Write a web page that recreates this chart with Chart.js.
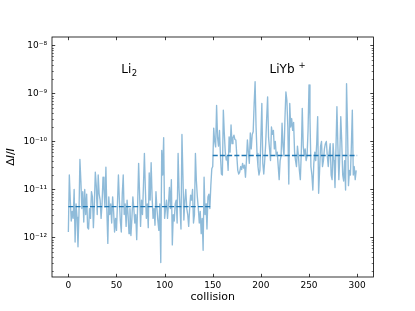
<!DOCTYPE html>
<html>
<head>
<meta charset="utf-8">
<script src="https://cdn.jsdelivr.net/npm/chart.js@4.4.0/dist/chart.umd.min.js"></script>
<style>
  html, body { margin: 0; padding: 0; background: #fff; }
  canvas { display: block; }
</style>
</head>
<body>
<canvas id="chart" width="415" height="311"></canvas>
<script>
// ── DATA ────────────────────────────────────────────────────────────────────
const collisionTicks = [0, 50, 100, 150, 200, 250, 300];
const yTickValues    = [1e-12, 1e-11, 1e-10, 1e-9, 1e-8];
const yTickLabels    = ['10⁻¹²', '10⁻¹¹', '10⁻¹⁰', '10⁻⁹', '10⁻⁸'];

// ΔI/I per collision, index = collision number
const signal = [
  // 0-49 (Li2)
  1.3e-12, 2e-11, 6e-12, 2.2e-12, 3.5e-12, 2.5e-12, 1e-11, 8e-13, 5e-12, 2.6e-12,
  6.4e-13, 3e-12, 4.2e-11, 1.5e-11, 4e-12, 9e-12, 2.1e-12, 1e-11, 3e-12, 8e-12,
  1.6e-12, 1.5e-12, 4e-12, 2.5e-12, 9e-12, 7e-12, 1.6e-12, 5e-12, 2.3e-11, 1.2e-11,
  3e-12, 2e-11, 8e-12, 6e-12, 2.5e-12, 5e-12, 1.8e-11, 1e-11, 4.3e-12, 2.9e-11,
  3.5e-12, 7.5e-13, 7e-12, 3e-12, 5e-12, 2e-12, 7e-12, 3.5e-12, 1.3e-12, 2.5e-12,
  // 50-99
  1.4e-12, 5e-12, 2e-11, 6e-12, 2.2e-12, 1.3e-12, 8e-12, 2e-11, 3e-12, 5e-12,
  1.7e-12, 6e-12, 3e-12, 1.2e-12, 4e-12, 1.1e-12, 2.5e-12, 7e-12, 4e-12, 2e-12,
  3e-12, 9e-13, 5e-12, 3.5e-11, 8e-12, 1.7e-12, 6e-12, 3e-12, 1.2e-11, 5.6e-11,
  1e-11, 2.5e-12, 5e-12, 1.6e-12, 2.2e-11, 6e-12, 3.6e-11, 7e-12, 2.5e-12, 4e-12,
  1.8e-12, 9e-12, 4e-12, 2.2e-12, 1.4e-12, 5e-12, 3e-13, 6.5e-11, 2e-11, 1.2e-10,
  // 100-149
  2.5e-12, 4e-12, 6e-12, 2.5e-12, 5e-12, 1.1e-11, 4e-12, 1.6e-11, 7e-13, 3e-12,
  2.2e-12, 5e-12, 6e-12, 2e-12, 5.6e-11, 1e-11, 4e-12, 1.5e-12, 1.4e-10, 2e-11,
  2.3e-12, 6e-12, 1e-11, 4e-12, 3e-12, 1.7e-12, 4e-12, 7.6e-12, 6e-12, 1e-11,
  2e-12, 3e-12, 5.6e-11, 1.5e-11, 7e-12, 4e-12, 2e-12, 3.5e-12, 1.2e-12, 2.5e-12,
  5.4e-13, 1.8e-11, 3e-12, 5e-12, 1.5e-12, 7e-12, 8e-12, 4e-12, 1.2e-11, 2.7e-11,
  // 150-199 (LiYb+)
  3e-11, 1.9e-10, 1e-10, 7.7e-11, 5.6e-10, 1.2e-10, 8e-11, 1.7e-10, 5e-11, 2.1e-11,
  2e-11, 4.5e-10, 1.5e-10, 6e-11, 4.1e-11, 5e-11, 2.5e-11, 1.25e-10, 6e-11, 2.2e-10,
  9e-11, 1.2e-10, 1.35e-10, 1.1e-10, 1.07e-10, 5e-11, 2.5e-11, 2.1e-11, 2.3e-11, 3e-11,
  2.6e-11, 3.5e-11, 2.8e-11, 3.2e-11, 1.8e-11, 4e-11, 1.07e-10, 6e-11, 3.5e-11, 1.5e-10,
  7e-11, 1.4e-10, 1.6e-10, 6e-10, 1.75e-9, 2e-10, 5.6e-11, 3e-11, 2e-11, 2.5e-11,
  // 200-249
  1.2e-10, 6.2e-10, 3.5e-11, 2.1e-11, 4e-11, 9e-11, 3e-10, 8.5e-10, 1.2e-10, 7e-11,
  4e-11, 2e-10, 1.4e-10, 1.7e-10, 7e-11, 1e-10, 5e-11, 6e-11, 3.1e-11, 1.6e-11,
  4e-11, 5e-11, 2.4e-10, 8e-11, 5e-11, 3e-10, 1.08e-9, 7.2e-10, 2e-10, 1.3e-11,
  6.2e-10, 2e-10, 3e-10, 1.7e-10, 2.5e-10, 6e-11, 4e-11, 3e-11, 8e-11, 5e-11,
  2.5e-11, 1.6e-11, 6e-11, 4.9e-10, 8e-11, 5e-11, 7e-11, 4e-11, 5e-11, 1.7e-10,
  // 250-299
  1.5e-9, 3e-10, 3e-11, 2e-11, 9.7e-12, 3.5e-11, 6e-11, 4e-11, 9e-11, 3.3e-10,
  8.3e-12, 2.5e-11, 8e-11, 1e-10, 3e-11, 4e-11, 7e-11, 9e-11, 1e-10, 5e-11,
  3e-11, 6e-11, 9e-11, 2e-11, 1.6e-11, 9e-11, 4e-11, 1.1e-11, 7e-11, 5.3e-10,
  8e-11, 1.6e-11, 5e-11, 3.3e-10, 1e-10, 2e-11, 1.5e-11, 4e-11, 9.7e-12, 1.6e-9,
  2e-10, 1.2e-11, 2.5e-11, 2e-11, 8e-11, 4.5e-10, 2e-11, 3e-11, 1.6e-11, 2.5e-11,
];

// dashed mean levels and their collision spans
const meanLi2     = 4.4e-12;
const meanLiYb    = 5.1e-11;
const spanLi2     = [0, 149];
const spanLiYb    = [150, 300];

// ── STYLE ───────────────────────────────────────────────────────────────────
const BLUE      = '#1f77b4';
const BLUE_SOFT = 'rgba(31,119,180,0.5)';
const FONT      = '"DejaVu Sans", sans-serif';

// ── FRAME / INWARD TICKS / TEXT (matplotlib look) ──────────────────────────
const framePlugin = {
  id: 'frame',
  afterDraw(chart) {
    const { ctx, chartArea: a, scales: { x, y } } = chart;
    ctx.save();
    ctx.strokeStyle = '#000';

    // major ticks, inward, all four sides
    ctx.lineWidth = 0.75;
    ctx.beginPath();
    collisionTicks.forEach(v => {
      const px = Math.round(x.getPixelForValue(v)) + 0.5;
      ctx.moveTo(px, a.bottom); ctx.lineTo(px, a.bottom - 3.2);
      ctx.moveTo(px, a.top);    ctx.lineTo(px, a.top + 3.2);
    });
    yTickValues.forEach(v => {
      const py = Math.round(y.getPixelForValue(v)) + 0.5;
      ctx.moveTo(a.left, py);  ctx.lineTo(a.left + 3.2, py);
      ctx.moveTo(a.right, py); ctx.lineTo(a.right - 3.2, py);
    });
    ctx.stroke();

    // minor log ticks
    ctx.lineWidth = 0.55;
    ctx.beginPath();
    for (let e = -14; e <= -8; e++) {
      for (let k = 2; k <= 9; k++) {
        const v = k * Math.pow(10, e);
        if (v < y.min || v > y.max) continue;
        const py = Math.round(y.getPixelForValue(v)) + 0.5;
        ctx.moveTo(a.left, py);  ctx.lineTo(a.left + 1.8, py);
        ctx.moveTo(a.right, py); ctx.lineTo(a.right - 1.8, py);
      }
    }
    ctx.stroke();

    // spines
    ctx.lineWidth = 0.8;
    ctx.strokeRect(a.left, a.top, a.right - a.left, a.bottom - a.top);

    // y label: ΔI/I (I italic)
    ctx.fillStyle = '#000';
    ctx.textBaseline = 'middle';
    const parts = [['Δ', 'normal'], ['I', 'italic'], ['/', 'normal'], ['I', 'italic']];
    ctx.translate(11, (a.top + a.bottom) / 2);
    ctx.rotate(-Math.PI / 2);
    let total = 0;
    parts.forEach(p => { ctx.font = `${p[1]} 11px ${FONT}`; total += ctx.measureText(p[0]).width; });
    let cx = -total / 2;
    parts.forEach(p => {
      ctx.font = `${p[1]} 11px ${FONT}`;
      ctx.fillText(p[0], cx, 0);
      cx += ctx.measureText(p[0]).width;
    });
    ctx.restore();

    // species labels
    ctx.save();
    ctx.fillStyle = '#000';
    ctx.textBaseline = 'alphabetic';
    const base = y.getPixelForValue(2.7e-9);
    let lx = x.getPixelForValue(55);
    ctx.font = `12px ${FONT}`;
    ctx.fillText('Li', lx, base);
    lx += ctx.measureText('Li').width + 0.5;
    ctx.font = `8.5px ${FONT}`;
    ctx.fillText('2', lx, base + 3);

    let rx = x.getPixelForValue(209);
    ctx.font = `12px ${FONT}`;
    ctx.fillText('LiYb', rx, base);
    rx += ctx.measureText('LiYb').width + 4;
    ctx.font = `8.5px ${FONT}`;
    ctx.fillText('+', rx, base - 5);
    ctx.restore();
  }
};

// ── CHART ───────────────────────────────────────────────────────────────────
new Chart(document.getElementById('chart'), {
  type: 'line',
  data: {
    datasets: [
      {
        data: spanLi2.map(c => ({ x: c, y: meanLi2 })),
        borderColor: BLUE, borderWidth: 1.35, borderDash: [5, 2.2],
        pointRadius: 0, order: 0,
      },
      {
        data: spanLiYb.map(c => ({ x: c, y: meanLiYb })),
        borderColor: BLUE, borderWidth: 1.35, borderDash: [5, 2.2],
        pointRadius: 0, order: 0,
      },
      {
        data: signal.map((v, i) => ({ x: i, y: v })),
        borderColor: BLUE_SOFT, borderWidth: 1.35,
        borderJoinStyle: 'round',
        pointRadius: 0, tension: 0, order: 1,
      },
    ]
  },
  options: {
    responsive: false,
    animation: false,
    devicePixelRatio: 1,
    parsing: false,
    layout: { padding: { left: 0, top: 37, right: 41.5, bottom: 0 } },
    scales: {
      x: {
        type: 'linear',
        min: -17, max: 317,
        afterBuildTicks: s => { s.ticks = collisionTicks.map(v => ({ value: v })); },
        afterFit: s => { s.height = 34; },
        grid: { display: false, drawTicks: false },
        border: { display: false },
        ticks: {
          color: '#000', font: { family: FONT, size: 9 }, padding: 3,
          maxRotation: 0, autoSkip: false,
        },
        title: {
          display: true, text: 'collision', color: '#000',
          font: { family: FONT, size: 11 }, padding: { top: 0, bottom: 7 },
        },
      },
      y: {
        type: 'logarithmic',
        min: 1.5e-13, max: 1.5e-8,
        afterBuildTicks: s => { s.ticks = yTickValues.map(v => ({ value: v })); },
        afterFit: s => { s.width = 52; },
        grid: { display: false, drawTicks: false },
        border: { display: false },
        ticks: {
          color: '#000', font: { family: FONT, size: 9 }, padding: 5,
          autoSkip: false,
          callback: (v, i) => yTickLabels[i],
        },
      },
    },
    plugins: {
      legend: { display: false },
      tooltip: { enabled: false },
    },
  },
  plugins: [framePlugin],
});
</script>
</body>
</html>
